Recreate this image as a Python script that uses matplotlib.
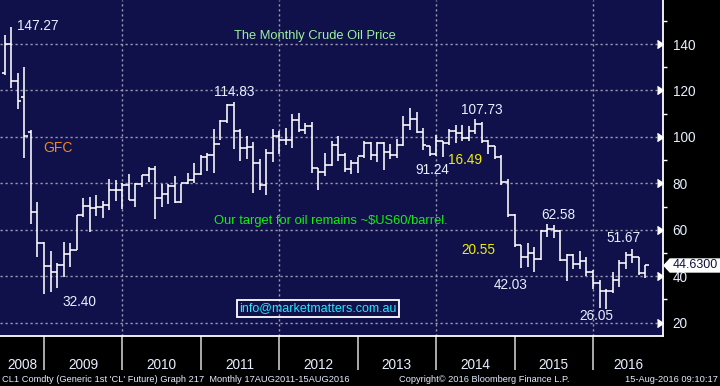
import numpy as np
import pandas as pd
import matplotlib
matplotlib.use("Agg")
import matplotlib.pyplot as plt
from matplotlib.patches import Polygon

plt.rcParams['font.family'] = ['Liberation Sans', 'DejaVu Sans']

# ---- data: monthly OHLC, Jun 2008 .. Aug 2016 ----
start_month = "2008-06"
opens = [127.5, 140.0, 124.0, 117.0, 102.0, 67.6, 54.4,
         44.6, 41.7, 44.8, 49.7, 51.1, 66.3, 70.2, 69.5, 69.7, 70.7, 77.1, 77.3,
         79.4, 72.9, 79.7, 83.5, 86.0, 73.9, 75.6, 79.0, 71.8, 80.0, 81.4, 84.1,
         91.4, 92.2, 96.8, 106.7, 113.9, 102.7, 95.4, 95.7, 88.8, 79.2, 93.2, 100.4,
         98.8, 98.5, 107.1, 103.0, 104.9, 86.5, 85.0, 88.1, 96.5, 92.2, 86.2, 88.9,
         91.8, 97.5, 92.1, 97.2, 93.5, 92.0, 96.6, 105.0, 107.7, 102.3, 96.0, 92.7,
         98.4, 97.5, 102.6, 101.6, 99.7, 102.7, 105.4, 98.2, 95.9, 91.2, 80.5, 66.2,
         53.3, 48.2, 49.8, 47.6, 59.6, 60.3, 59.5, 47.1, 49.2, 45.1, 46.6, 41.7,
         37.0, 33.6, 33.75, 38.3, 45.9, 49.1, 48.3, 41.6]
highs = [143.7, 147.27, 127.5, 130.0, 103.0, 72.0, 54.8,
         50.8, 45.6, 54.7, 54.2, 66.3, 73.6, 74.0, 75.0, 72.6, 82.0, 81.4, 80.0,
         84.0, 80.2, 83.8, 87.1, 87.4, 79.7, 79.7, 83.1, 79.9, 84.3, 88.6, 92.2,
         92.9, 103.2, 107.2, 114.0, 114.83, 103.4, 100.6, 98.0, 90.5, 94.6, 103.4, 102.4,
         103.7, 109.8, 110.5, 106.2, 106.4, 86.5, 92.9, 98.3, 100.4, 93.0, 89.9, 91.5,
         98.2, 98.0, 97.6, 97.8, 97.0, 99.0, 108.9, 112.24, 110.7, 104.0, 96.0, 100.75,
         98.4, 103.3, 105.2, 105.0, 104.5, 107.73, 106.5, 98.7, 95.9, 92.2, 82.0, 66.6,
         53.5, 54.2, 52.5, 59.9, 62.58, 61.9, 59.7, 49.5, 49.5, 50.9, 48.4, 42.6,
         38.4, 34.7, 41.9, 46.8, 50.5, 51.67, 48.3, 44.7]
lows = [126.5, 121.0, 112.0, 91.0, 62.3, 48.3, 32.40,
        33.2, 34.8, 39.6, 43.9, 51.2, 65.4, 59.0, 66.0, 65.0, 68.4, 72.5, 68.9,
        72.8, 69.9, 78.5, 80.7, 64.6, 69.9, 71.1, 71.5, 71.6, 79.7, 80.2, 83.5,
        85.4, 84.3, 98.6, 105.8, 94.6, 89.6, 90.3, 75.7, 77.1, 74.95, 89.2, 92.5,
        96.5, 95.4, 102.1, 101.2, 84.5, 77.3, 83.0, 87.3, 89.5, 84.8, 84.0, 84.5,
        91.0, 90.0, 89.2, 85.6, 90.5, 91.1, 95.9, 103.0, 101.5, 94.3, 91.8, 91.8,
        91.24, 96.5, 97.4, 98.4, 98.4, 101.4, 97.2, 92.5, 90.4, 79.4, 65.7, 52.7,
        43.58, 43.8, 42.03, 47.05, 57.0, 56.6, 46.7, 37.75, 43.2, 43.2, 40.0, 34.5,
        26.19, 26.05, 32.7, 35.2, 43.0, 45.8, 40.5, 39.3]
closes = [140.0, 124.1, 115.5, 100.6, 67.8, 54.4, 44.6,
          41.7, 44.8, 49.7, 51.1, 66.3, 70.2, 69.5, 69.7, 70.7, 77.1, 77.3, 79.4,
          72.9, 79.7, 83.5, 86.0, 73.9, 75.6, 79.0, 71.8, 80.0, 81.4, 84.1, 91.4,
          92.2, 96.8, 106.7, 113.9, 102.7, 95.4, 95.7, 88.8, 79.2, 93.2, 100.4, 98.8,
          98.5, 107.1, 103.0, 104.9, 86.5, 85.0, 88.1, 96.5, 92.2, 86.2, 88.9, 91.8,
          97.5, 92.1, 97.2, 93.5, 92.0, 96.6, 105.0, 107.7, 102.3, 96.4, 92.7, 98.4,
          97.5, 102.6, 101.6, 99.7, 102.7, 105.4, 98.2, 96.0, 91.2, 80.5, 66.2, 53.3,
          48.2, 49.8, 47.6, 59.6, 60.3, 59.5, 47.1, 49.2, 45.1, 46.6, 41.7, 37.0,
          33.6, 33.75, 38.3, 45.9, 49.1, 48.3, 41.6, 44.63]
last_price = 44.63
years = [2008, 2009, 2010, 2011, 2012, 2013, 2014, 2015, 2016]
yticks = [20, 40, 60, 80, 100, 120, 140]

annotations = [
    ("147.27", 2008.924, 147.8, "#e8f0ff"),
    ("114.83", 2011.420, 119.3, "#e8f0ff"),
    ("91.24", 2013.955, 85.7, "#e8f0ff"),
    ("16.49", 2014.374, 90.0, "#f0f000"),
    ("107.73", 2014.578, 111.6, "#e8f0ff"),
    ("20.55", 2014.540, 51.3, "#f0f000"),
    ("62.58", 2015.560, 66.4, "#e8f0ff"),
    ("42.03", 2014.955, 36.2, "#e8f0ff"),
    ("51.67", 2016.383, 56.45, "#e8f0ff"),
    ("26.05", 2016.038, 22.9, "#e8f0ff"),
    ("32.40", 2009.453, 28.9, "#e8f0ff"),
]

# ---- positions ----
months = pd.period_range(start_month, periods=len(closes), freq="M")
x = np.array([m.year + m.month / 12.0 for m in months])
half = 1 / 24

BG = "#10104a"
fig = plt.figure(figsize=(7.2, 3.86), dpi=100, facecolor="black")
ax = fig.add_axes([0, 50 / 386, 663 / 720, 336 / 386])
ax.set_facecolor(BG)
ax.set_xlim(2008.439, 2016.893)
ax.set_ylim(14.27, 158.95)

# grid
grid_kw = dict(color="#9a9ab4", lw=1.0, ls=(0, (1.6, 2.0)), zorder=1)
for v in yticks:
    ax.axhline(v, **grid_kw)
for yr in [2010, 2012, 2014, 2016]:
    ax.axvline(yr, **grid_kw)

# OHLC bars
bar_kw = dict(colors="white", lw=1.15, zorder=3)
ax.vlines(x, lows, highs, **bar_kw)
ax.hlines(opens, x - half, x, **bar_kw)
ax.hlines(closes, x, x + half, **bar_kw)

# spines
for s in ["top", "left"]:
    ax.spines[s].set_visible(False)
ax.spines["right"].set_color("white")
ax.spines["bottom"].set_color("white")
ax.spines["right"].set_linewidth(1.3)
ax.spines["bottom"].set_linewidth(1.3)

# y axis on right
ax.yaxis.tick_right()
ax.set_yticks(yticks)
ax.set_yticklabels([str(v) for v in yticks])
ax.set_yticks([v + 10 for v in yticks], minor=True)
ax.tick_params(axis="y", which="major", length=0, pad=7, labelsize=9.8,
               labelcolor="#e8f0ff")
ax.tick_params(axis="y", which="minor", length=3.2, width=1, color="white",
               direction="out")
ytr = ax.get_yaxis_transform()
ax.plot([1.0] * len(yticks), yticks, ls="none", marker=5, ms=5.5, color="white",
        transform=ytr, clip_on=False, zorder=5)

# x axis: year separators and centered labels
ax.set_xticks(years[1:], minor=True)
ax.tick_params(axis="x", which="minor", length=24.5, width=1.2, color="#c8c8c8",
               direction="out")
xmin, xmax = ax.get_xlim()
label_pos = []
for yr in years:
    lo = max(yr, xmin)
    hi = min(yr + 1, xmax)
    label_pos.append((lo + hi) / 2)
ax.set_xticks(label_pos)
ax.set_xticklabels([str(y) for y in years])
ax.tick_params(axis="x", which="major", length=0, pad=15.5, labelsize=9.8,
               labelcolor="#e8f0ff")

# annotations
for txt, xx, yy, col in annotations:
    ax.text(xx, yy, txt, color=col, fontsize=9.8, ha="center", va="center", zorder=6)

ax.text(2012.455, 143.4, "The Monthly Crude Oil Price", color="#9ef09e",
        fontsize=9.3, ha="center", va="center")
ax.text(2009.18, 95.2, "GFC", color="#f08a20", fontsize=10, ha="center", va="center")
ax.text(2012.653, 63.8, "Our target for oil remains ~$US60/barrel.", color="#10f010",
        fontsize=9.3, ha="center", va="center")
ax.text(2012.494, 26.2, "info@marketmatters.com.au", color="#20e8ff",
        fontsize=9.0, ha="center", va="center",
        bbox=dict(boxstyle="square,pad=0.22", fc="none", ec="white", lw=1.3))

# last price tag
def fx(px):
    return px / 663.0
dy = 6.5 / 2.3225
tag = Polygon([(fx(664), last_price), (fx(670), last_price + dy),
               (fx(720), last_price + dy), (fx(720), last_price - dy),
               (fx(670), last_price - dy)], closed=True, fc="white", ec="white",
              transform=ytr, clip_on=False, zorder=7)
ax.add_patch(tag)
ax.text(fx(695), last_price, f"{last_price:.4f}", transform=ytr, color="#101040",
        fontsize=9.0, ha="center", va="center", clip_on=False, zorder=8)

# footer
foot_col = "#e6ecff"
fig.text(2 / 720, 1 - 379 / 386,
         "CL1 Comdty (Generic 1st 'CL' Future) Graph 217  Monthly 17AUG2011-15AUG2016",
         color=foot_col, fontsize=6.7, ha="left", va="center")
fig.text(399 / 720, 1 - 379 / 386, "Copyright\u00a9 2016 Bloomberg Finance L.P.",
         color=foot_col, fontsize=6.7, ha="left", va="center")
fig.text(718 / 720, 1 - 379 / 386, "15-Aug-2016 09:10:17",
         color=foot_col, fontsize=6.7, ha="right", va="center")

fig.savefig("out.png", dpi=100, facecolor="black")
